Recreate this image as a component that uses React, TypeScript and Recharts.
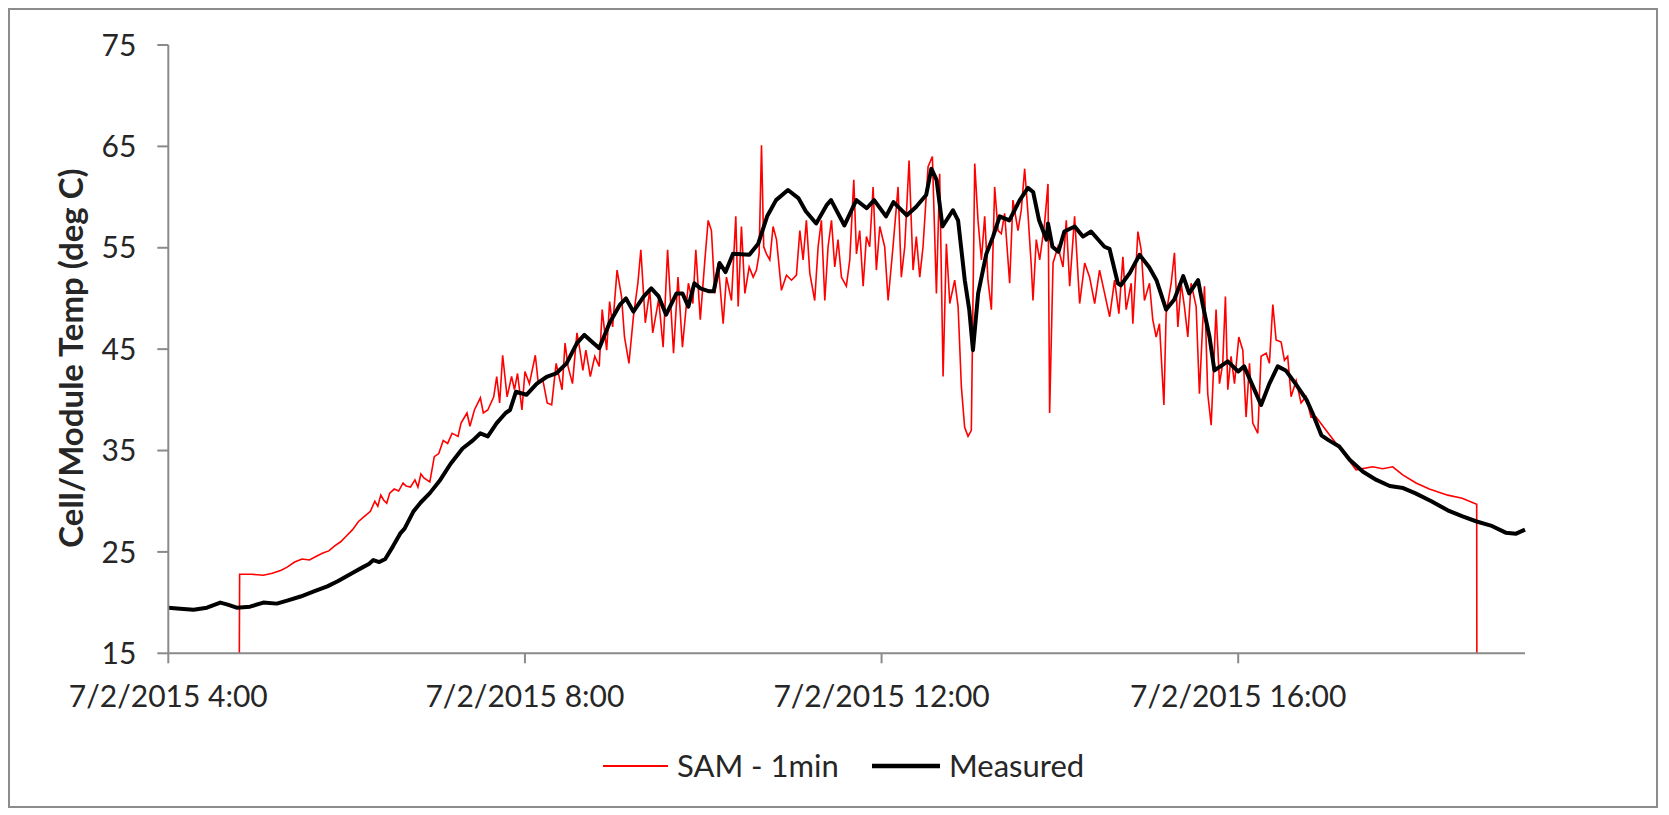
import React from "react";
import { LineChart, Line, XAxis, YAxis, Legend } from "recharts";

// readings as [minutes after 4:00, deg C]
const samPoints: [number, number][] = [
  [47.8, 15], [48, 22.8], [56, 22.8], [64, 22.7], [70, 22.9], [76, 23.2], [80, 23.5], [85, 24.0],
  [90, 24.3], [95, 24.2], [100, 24.6], [104, 24.9], [108, 25.1], [112, 25.6], [116, 26.0], [120, 26.6],
  [124, 27.2], [128, 28.0], [132, 28.5], [136, 29.0], [139, 30.0], [141, 29.5], [143, 30.6], [145, 30.1],
  [147, 29.8], [149, 30.8], [152, 31.2], [155, 31.0], [158, 31.8], [160, 31.5], [163, 31.4], [166, 32.1],
  [168, 31.4], [170, 32.7], [172, 32.3], [176, 31.9], [179, 34.4], [182, 34.7], [185, 36.0], [188, 35.7],
  [191, 36.7], [195, 36.4], [197, 37.7], [201, 38.7], [203, 37.4], [206, 39.0], [210, 40.2], [212, 38.7],
  [215, 39.0], [219, 40.3], [221, 42.3], [223, 39.7], [225, 44.4], [228, 40.3], [231, 42.3], [233, 41.0],
  [235, 42.6], [238, 39.0], [240, 42.8], [243, 41.6], [247, 44.4], [249, 41.6], [252, 42.0], [255, 39.7],
  [258, 39.5], [261, 43.6], [265, 41.0], [267, 45.6], [269, 43.3], [272, 41.6], [275, 46.6], [277, 44.9],
  [279, 42.9], [281, 44.9], [284, 42.3], [287, 44.3], [290, 43.3], [292, 48.9], [295, 44.9], [297, 49.7],
  [299, 47.2], [302, 52.8], [305, 50.2], [307, 46.2], [310, 43.6], [313, 48.2], [316, 51.5], [318, 54.8],
  [321, 47.6], [324, 50.8], [326, 46.6], [330, 49.9], [333, 45.2], [336, 54.8], [340, 44.6], [343, 52.1],
  [346, 45.2], [350, 51.5], [353, 49.5], [355, 54.8], [358, 47.9], [361.1, 53.8], [363.3, 57.7], [365.5, 56.7],
  [367.8, 50.5], [370, 53.5], [373.4, 47.5], [375.6, 52.1], [379, 49.8], [381.9, 58.1], [383.5, 49.2], [385.7, 57.1],
  [388, 50.5], [390.9, 53.1], [393.6, 52.1], [395.8, 52.8], [397.6, 54.4], [399.2, 65.1], [400.7, 55.1], [402.5, 54.4],
  [404.8, 53.8], [407, 57.1], [409.3, 55.8], [412.6, 50.8], [416, 52.3], [419.4, 51.8], [422.7, 52.3], [425, 56.7],
  [427.2, 53.8], [429.4, 57.7], [431.7, 52.5], [435, 49.8], [437.3, 55.1], [439.5, 57.7], [441.8, 49.8], [444, 55.1],
  [446.3, 57.7], [448.5, 53.1], [450.7, 55.8], [453, 52.1], [456.3, 51.2], [458.6, 53.8], [461.3, 61.7], [463.1, 54.4],
  [465.3, 56.7], [467.6, 51.2], [469.8, 56.1], [472, 55.1], [474.3, 61.0], [476.5, 52.8], [478.8, 57.1], [482.1, 55.1],
  [484.4, 49.8], [487.7, 55.1], [491.1, 61.0], [493.3, 52.1], [495.6, 55.1], [498.5, 63.6], [501.2, 52.8], [503.4, 56.1],
  [505.7, 52.1], [507.9, 55.1], [511.3, 63.0], [514.2, 64.0], [516.9, 50.5], [519.1, 62.3], [521.4, 42.3], [523.6, 55.4],
  [525.9, 49.5], [529.2, 51.8], [531.5, 49.2], [533.7, 41.3], [535.9, 37.3], [538.2, 36.4], [540.4, 37.0], [542.7, 63.3],
  [544.9, 57.7], [547.2, 53.8], [549.4, 58.1], [551.6, 51.8], [553.9, 48.9], [556.1, 61.0], [558.4, 56.7], [560.6, 56.4],
  [562.8, 58.4], [566.2, 51.5], [568.4, 59.7], [571.8, 56.7], [574, 58.7], [576.3, 62.8], [578.5, 58.4], [580.8, 53.1],
  [581.9, 49.8], [584.1, 55.8], [586.4, 53.8], [589.7, 57.4], [592, 61.3], [593.1, 38.7], [595.4, 53.5], [598.7, 55.1],
  [602.1, 53.1], [604.3, 57.7], [606.6, 51.2], [609.9, 58.1], [613.3, 49.5], [616.7, 53.5], [620, 52.1], [623.4, 49.5],
  [626.7, 52.8], [630.1, 50.5], [633.5, 48.2], [636.8, 51.8], [639.7, 48.5], [642.4, 54.1], [644.6, 48.9], [648, 51.5],
  [649.1, 47.5], [652.5, 56.6], [654.7, 54.8], [656.9, 49.8], [660.3, 51.5], [662.5, 47.9], [664.8, 46.2], [667, 47.5],
  [670, 39.5], [671.5, 48.5], [674.9, 51.5], [677.1, 54.5], [679.4, 47.2], [681.6, 51.5], [683.8, 49.2], [686.1, 46.2],
  [688.3, 51.5], [691.7, 49.2], [693.9, 40.6], [697.3, 51.2], [699.5, 40.6], [701.8, 37.5], [705.1, 48.9], [707.4, 41.6],
  [709.6, 43.6], [711.4, 50.2], [713, 41.0], [715.2, 44.3], [717.5, 41.6], [720.4, 46.2], [723.1, 44.9], [725.3, 38.3],
  [727.6, 43.6], [729.8, 37.7], [733.2, 36.7], [735.4, 44.3], [738.8, 44.6], [741, 43.6], [743.3, 49.4], [745.5, 45.9],
  [748.9, 45.7], [751.1, 43.9], [753.3, 44.3], [755.6, 40.3], [759, 41.9], [762.3, 39.7], [765.7, 40.3], [769, 38.3],
  [772.4, 38.3], [779.1, 37.0], [785.9, 35.7], [792.6, 34.4], [799.3, 33.1], [810.5, 33.4], [817.2, 33.2], [824, 33.4],
  [830.7, 32.6], [839.7, 31.8], [848.6, 31.2], [861, 30.6], [870.7, 30.3], [880.5, 29.7], [880.6, 15],
];

const measuredPoints: [number, number][] = [
  [0, 19.5], [8, 19.4], [17, 19.3], [26, 19.5], [35, 20.0], [40, 19.8], [46, 19.5], [55, 19.6],
  [64, 20.0], [73, 19.9], [80, 20.2], [89, 20.6], [98, 21.1], [107, 21.6], [114, 22.1], [120, 22.6],
  [126, 23.1], [131, 23.5], [135, 23.8], [138, 24.2], [142, 24.0], [146, 24.3], [151, 25.5], [156, 26.8],
  [159, 27.3], [165, 29.0], [170, 29.9], [176, 30.8], [183, 32.1], [190, 33.7], [198, 35.2], [205, 36.0],
  [210, 36.7], [215, 36.4], [221, 37.7], [227, 38.7], [230, 39.0], [234, 40.8], [241, 40.5], [248, 41.6],
  [255, 42.3], [261, 42.6], [268, 43.6], [275, 45.6], [280, 46.4], [286, 45.6], [290, 45.1], [297, 47.6],
  [304, 49.4], [308, 50.0], [313, 48.7], [320, 50.2], [325, 51.0], [330, 50.2], [335, 48.4], [342, 50.5],
  [346, 50.5], [350, 49.2], [354, 51.5], [358, 51.0], [364, 50.7], [367, 50.7], [371, 53.5], [375, 52.6],
  [380, 54.4], [391, 54.3], [397, 55.4], [403, 58.1], [409, 59.7], [417, 60.7], [424, 59.9], [429, 58.6],
  [436, 57.4], [443, 59.2], [446, 59.7], [455, 57.2], [463, 59.7], [470, 58.9], [475, 59.7], [483, 58.1],
  [488, 59.5], [497, 58.2], [503, 59.0], [510, 60.2], [513.5, 62.8], [517, 61.7], [521, 57.1], [528, 58.7],
  [531.5, 57.7], [536, 51.8], [539, 48.9], [541.5, 44.9], [545, 50.5], [550.5, 54.4], [555, 56.1], [559.5, 58.1],
  [566, 57.7], [573, 59.7], [578.5, 60.9], [582, 60.5], [586, 57.7], [591, 55.8], [592, 57.4], [595, 55.1],
  [599, 54.6], [603, 56.6], [610, 57.1], [615.5, 56.1], [621, 56.6], [630, 55.1], [633.4, 54.9], [639, 51.5],
  [641, 51.3], [647, 52.5], [653.6, 54.3], [660, 53.1], [665, 51.8], [671.5, 48.9], [677, 49.9], [683, 52.2],
  [687, 50.5], [693, 51.8], [696, 49.5], [700.7, 46.2], [704, 42.9], [708, 43.3], [713, 43.8], [720, 42.8],
  [724, 43.3], [730, 41.3], [735.4, 39.5], [741, 41.6], [746.6, 43.3], [752, 42.9], [759, 41.5], [766, 40.0],
  [770, 38.7], [776, 36.5], [781, 36.0], [788, 35.4], [795, 34.1], [804, 32.9], [813, 32.1], [822, 31.5],
  [831, 31.3], [839, 30.8], [850, 30.0], [861, 29.1], [871, 28.5], [880.5, 28.0], [890, 27.6], [900, 26.9],
  [907, 26.8], [913, 27.2],
];

const xTickMinutes = [0, 240, 480, 720];
const xTickLabels = ["7/2/2015 4:00", "7/2/2015 8:00", "7/2/2015 12:00", "7/2/2015 16:00"];
const yTicks = [15, 25, 35, 45, 55, 65, 75];
const seriesNames = ["SAM - 1min", "Measured"];
const yTitle = "Cell/Module Temp (deg C)";

const FONT = "Lato, 'Open Sans', sans-serif";
const AXIS = "#8a8a8a";
const TEXT = "#262626";

const samData = samPoints.map(([m, t]) => ({ m, temp: t }));
const measuredData = measuredPoints.map(([m, t]) => ({ m, temp: t }));

function LegendBox() {
  const items = [
    { name: seriesNames[0], color: "#ff0000", w: 2, x: 593, len: 65 },
    { name: seriesNames[1], color: "#000000", w: 4.5, x: 862, len: 68 },
  ];
  return (
    <svg width={1646} height={40} style={{ display: "block" }}>
      {items.map((it) => (
        <g key={it.name}>
          <line x1={it.x} x2={it.x + it.len} y1={20} y2={20} stroke={it.color} strokeWidth={it.w} />
          <text
            x={it.x + it.len + 9}
            y={20}
            dy="0.36em"
            fontFamily={FONT}
            fontSize={31}
            fill={TEXT}
          >
            {it.name}
          </text>
        </g>
      ))}
    </svg>
  );
}

export default function App() {
  return (
    <div
      style={{
        width: 1650,
        height: 800,
        boxSizing: "border-box",
        border: "2px solid #8c8c8c",
        background: "#fff",
        position: "relative",
      }}
    >
      <LineChart width={1646} height={796} margin={{ top: 35, right: 131, bottom: 92.7, left: 0 }}>
        <XAxis
          dataKey="m"
          type="number"
          domain={[0, 913]}
          ticks={xTickMinutes}
          tickFormatter={(v: number) => xTickLabels[xTickMinutes.indexOf(v)] ?? ""}
          height={60}
          stroke={AXIS}
          strokeWidth={2}
          tickSize={10}
          tickMargin={22}
          tick={{ fill: TEXT, fontSize: 30, fontFamily: FONT }}
          interval={0}
        />
        <YAxis
          type="number"
          domain={[15, 75]}
          ticks={yTicks}
          width={158.3}
          stroke={AXIS}
          strokeWidth={2}
          tickSize={11}
          tickMargin={21}
          tick={{ fill: TEXT, fontSize: 30, fontFamily: FONT }}
          interval={0}
          label={{
            position: "center",
            content: () => {
              const cx = 61;
              const cy = 348;
              return (
                <text
                  x={cx}
                  y={cy}
                  transform={`rotate(-90, ${cx}, ${cy})`}
                  textAnchor="middle"
                  dy="0.36em"
                  fontFamily={FONT}
                  fontWeight="bold"
                  fontSize={33}
                  fill={TEXT}
                >
                  {yTitle}
                </text>
              );
            },
          }}
        />
        <Line
          data={samData}
          dataKey="temp"
          name={seriesNames[0]}
          stroke="#ff0000"
          strokeWidth={1.6}
          dot={false}
          activeDot={false}
          isAnimationActive={false}
        />
        <Line
          data={measuredData}
          dataKey="temp"
          name={seriesNames[1]}
          stroke="#000000"
          strokeWidth={4}
          strokeLinejoin="round"
          dot={false}
          activeDot={false}
          isAnimationActive={false}
        />
        <Legend
          verticalAlign="middle"
          content={() => <LegendBox />}
          wrapperStyle={{ left: 0, top: 736, width: 1646, height: 40 }}
        />
      </LineChart>
    </div>
  );
}
